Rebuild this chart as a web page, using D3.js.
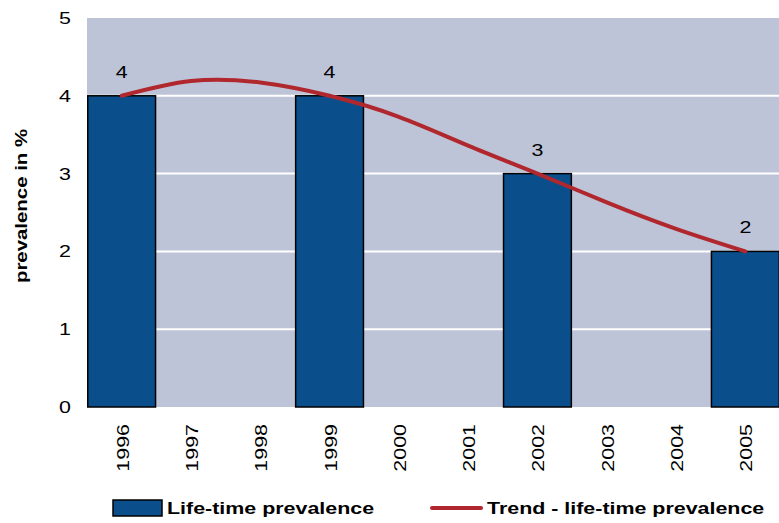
<!DOCTYPE html>
<html><head><meta charset="utf-8">
<script src="https://cdn.jsdelivr.net/npm/d3@7"></script>
<style>body{margin:0;background:#fff}svg{display:block}text{font-family:"Liberation Sans",Arial,sans-serif;fill:#000}</style>
</head><body><svg id="c" width="779" height="523"></svg>
<script>
const years = ["1996","1997","1998","1999","2000","2001","2002","2003","2004","2005"];
const barYears = ["1996","1999","2002","2005"];
const barValues = [4,4,3,2];
const trendValues = [4.0,4.19,4.17,4.0,3.73,3.36,3.0,2.63,2.29,2.0];
const yTicks = [0,1,2,3,4,5];

const svg = d3.select("#c");
const L=87, R=780, T=18, B=407;
const SX = 1.26;
const x = d3.scaleBand().domain(years).range([L,R]).padding(0);
const y = d3.scaleLinear().domain([0,5]).range([B,T]);

svg.append("rect").attr("x",L).attr("y",T).attr("width",R-L).attr("height",B-T).attr("fill","#bec4d8");
svg.selectAll(".grid").data(yTicks.filter(d=>d>0&&d<5)).enter().append("line")
  .attr("x1",L).attr("x2",R).attr("y1",d=>y(d)).attr("y2",d=>y(d))
  .attr("stroke","#fff").attr("stroke-width",2);

svg.selectAll(".ytl").data(yTicks).enter().append("text")
  .attr("transform",d=>`translate(71,${y(d)+6}) scale(${SX},1)`).attr("text-anchor","end").attr("font-size",17).text(d=>d);

svg.append("text").attr("transform",`translate(27,206) rotate(-90) scale(1.2,1)`).attr("text-anchor","middle")
  .attr("font-size",17).attr("font-weight","bold").text("prevalence in %");

svg.selectAll(".bar").data(barYears.map((d,i)=>({k:d,v:barValues[i]}))).enter().append("rect")
  .attr("x",d=>x(d.k)+0.75).attr("width",x.bandwidth()-1.5)
  .attr("y",d=>y(d.v)).attr("height",d=>B-y(d.v))
  .attr("fill","#0a4f8c").attr("stroke","#000").attr("stroke-width",1.5);

svg.selectAll(".lbl").data(barYears.map((d,i)=>({k:d,v:barValues[i]}))).enter().append("text")
  .attr("transform",d=>`translate(${x(d.k)+x.bandwidth()/2},${y(d.v)-18}) scale(${SX},1)`).attr("text-anchor","middle")
  .attr("font-size",17).text(d=>d.v);

const line = d3.line().x((d,i)=>x(years[i])+x.bandwidth()/2).y(d=>y(d)).curve(d3.curveNatural);
svg.append("path").attr("d",line(trendValues)).attr("fill","none").attr("stroke","#b0282e")
  .attr("stroke-width",4).attr("stroke-linecap","round");

svg.selectAll(".xtl").data(years).enter().append("text")
  .attr("transform",d=>`translate(${x(d)+x.bandwidth()/2+7},424) rotate(-90) scale(${SX},1)`)
  .attr("text-anchor","end").attr("font-size",17).text(d=>d);

// legend
svg.append("rect").attr("x",113).attr("y",500).attr("width",49).attr("height",16)
  .attr("fill","#0a4f8c").attr("stroke","#000").attr("stroke-width",1.5);
svg.append("text").attr("transform",`translate(167,514) scale(${SX},1)`).attr("font-size",17).attr("font-weight","bold").text("Life-time prevalence");
svg.append("line").attr("x1",432).attr("x2",481).attr("y1",508).attr("y2",508)
  .attr("stroke","#b0282e").attr("stroke-width",4).attr("stroke-linecap","round");
svg.append("text").attr("transform",`translate(487,514) scale(${SX},1)`).attr("font-size",17).attr("font-weight","bold").text("Trend - life-time prevalence");
</script></body></html>
